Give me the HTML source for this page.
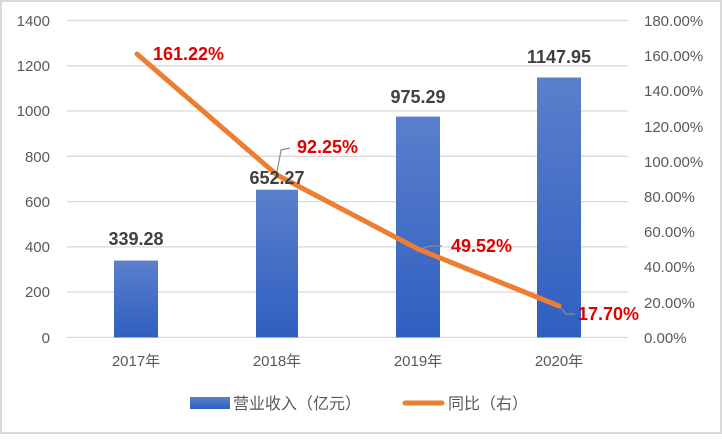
<!DOCTYPE html>
<html><head><meta charset="utf-8"><style>
body{margin:0;background:#fff}
svg text{font-family:"Liberation Sans","Noto Sans CJK SC",sans-serif}
</style></head><body>
<svg width="722" height="434" viewBox="0 0 722 434" xmlns="http://www.w3.org/2000/svg">
<defs><linearGradient id="g" x1="0" y1="0" x2="0" y2="1"><stop offset="0" stop-color="#5a7fcc"/><stop offset="1" stop-color="#2f5fc0"/></linearGradient></defs>
<rect x="1" y="1" width="720" height="432" fill="#fff" stroke="#d9d9d9" stroke-width="2"/>
<g stroke="#d9d9d9" stroke-width="1.3">
<line x1="67" x2="628" y1="20.5" y2="20.5"/><line x1="67" x2="628" y1="65.8" y2="65.8"/><line x1="67" x2="628" y1="111" y2="111"/><line x1="67" x2="628" y1="156.3" y2="156.3"/><line x1="67" x2="628" y1="201.6" y2="201.6"/><line x1="67" x2="628" y1="246.9" y2="246.9"/><line x1="67" x2="628" y1="292.1" y2="292.1"/><line x1="67" x2="628" y1="337.4" y2="337.4"/>
</g>
<g font-size="15" fill="#595959" text-anchor="end">
<text x="50" y="26">1400</text><text x="50" y="71">1200</text><text x="50" y="116">1000</text><text x="50" y="162">800</text><text x="50" y="207">600</text><text x="50" y="252">400</text><text x="50" y="297">200</text><text x="50" y="343">0</text>
</g>
<g font-size="15" fill="#595959">
<text x="644" y="26">180.00%</text><text x="644" y="61">160.00%</text><text x="644" y="96">140.00%</text><text x="644" y="132">120.00%</text><text x="644" y="167">100.00%</text><text x="644" y="202">80.00%</text><text x="644" y="237">60.00%</text><text x="644" y="272">40.00%</text><text x="644" y="308">20.00%</text><text x="644" y="343">0.00%</text>
</g>
<g fill="url(#g)">
<rect x="114" y="260.6" width="44" height="76.8"/><rect x="256" y="189.7" width="42" height="147.7"/><rect x="396" y="116.6" width="44" height="220.8"/><rect x="537" y="77.5" width="44" height="259.9"/>
</g>
<g font-size="15" fill="#595959" text-anchor="middle">
<text x="136" y="366">2017年</text><text x="277" y="366">2018年</text><text x="418" y="366">2019年</text><text x="559" y="366">2020年</text>
</g>
<g stroke="#8c8c8c" stroke-width="1.2" fill="none">
<polyline points="277,172 281,150 290,148"/><polyline points="418,250 430,246 442,246"/><polyline points="559,306 566,314 575,314"/>
</g>
<polyline points="137,54 277,175 418,249 559,306" fill="none" stroke="#ed7d31" stroke-width="5" stroke-linejoin="round" stroke-linecap="round"/>
<g font-size="18" font-weight="bold" fill="#404040" text-anchor="middle">
<text x="136" y="245">339.28</text><text x="277" y="184">652.27</text><text x="418" y="103">975.29</text><text x="559" y="63">1147.95</text>
</g>
<g font-size="18" font-weight="bold" fill="#e00000">
<text x="153" y="60">161.22%</text><text x="297" y="153">92.25%</text><text x="451" y="252">49.52%</text><text x="578" y="320">17.70%</text>
</g>
<rect x="190" y="397" width="40" height="12" fill="url(#g)"/>
<text x="233" y="409" font-size="16" fill="#595959">营业收入（亿元）</text>
<line x1="405" x2="442" y1="403" y2="403" stroke="#ed7d31" stroke-width="5" stroke-linecap="round"/>
<text x="448" y="409" font-size="16" fill="#595959">同比（右）</text>
</svg>
</body></html>
